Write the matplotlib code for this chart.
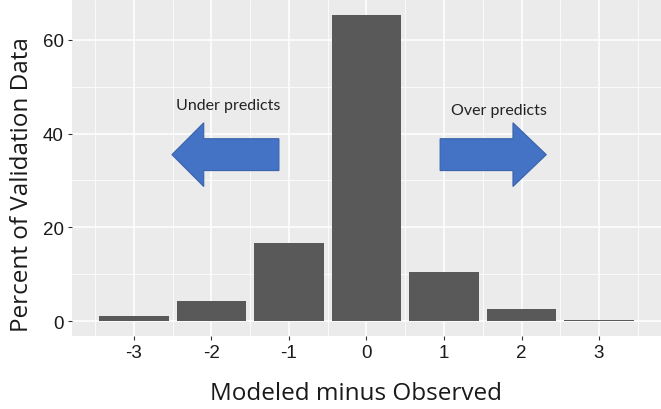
import numpy as np
import matplotlib
matplotlib.use('Agg')
import matplotlib.pyplot as plt
from matplotlib.patches import Polygon

# data
differences = [-3, -2, -1, 0, 1, 2, 3]
percents = [1.0, 4.2, 16.6, 65.2, 10.4, 2.5, 0.3]
y_ticks = [0, 20, 40, 60]

fig = plt.figure(figsize=(6.61, 4.10), dpi=100)
ax = fig.add_axes([72/661, 73/410, 1 - 72/661, 336/410])

ax.set_facecolor('#EBEBEB')
ax.bar(differences, percents, width=0.9, color='#595959', zorder=3)

ax.set_xlim(-3.8, 3.8)
ax.set_ylim(-3.2, 68.5)
ax.set_xticks(differences)
ax.set_xticklabels([str(d) for d in differences])
ax.set_yticks(y_ticks)
ax.set_xticks(np.arange(-3.5, 4, 1), minor=True)
ax.set_yticks([10, 30, 50], minor=True)

ax.grid(which='major', color='white', linewidth=1.1, zorder=0)
ax.grid(which='minor', color='white', linewidth=0.55, zorder=0)
ax.set_axisbelow(True)
for s in ax.spines.values():
    s.set_visible(False)
ax.tick_params(which='major', length=3, color='#333333', labelsize=13.5,
               labelcolor='#1a1a1a', pad=3)
ax.tick_params(which='minor', length=0)
for lab in ax.get_xticklabels() + ax.get_yticklabels():
    lab.set_family('Liberation Sans')

fig.text(22/661, 1 - 185/410, 'Percent of Validation Data', rotation=90,
         ha='center', va='center', fontsize=17.5, family='Open Sans', color='#1a1a1a')
fig.text(356/661, 1 - 394/410, 'Modeled minus Observed',
         ha='center', va='center', fontsize=17.5, family='Open Sans', color='#1a1a1a')

# arrows (annotation shapes)
blue = '#4472C4'
left_arrow = [(-2.51, 35.5), (-2.10, 42.3), (-2.10, 38.9), (-1.13, 38.9),
              (-1.13, 32.1), (-2.10, 32.1), (-2.10, 28.7)]
right_arrow = [(2.32, 35.5), (1.89, 42.3), (1.89, 38.9), (0.95, 38.9),
               (0.95, 32.1), (1.89, 32.1), (1.89, 28.7)]
for pts in (left_arrow, right_arrow):
    ax.add_patch(Polygon(pts, closed=True, facecolor=blue, edgecolor='#3A62AC',
                         linewidth=0.8, zorder=4))

ax.text(-1.79, 46, 'Under predicts', ha='center', va='center', fontsize=11.5,
        family='Lato', color='#222222', zorder=5)
ax.text(1.71, 45, 'Over predicts', ha='center', va='center', fontsize=11.5,
        family='Lato', color='#222222', zorder=5)

plt.savefig('out.png', dpi=100)
